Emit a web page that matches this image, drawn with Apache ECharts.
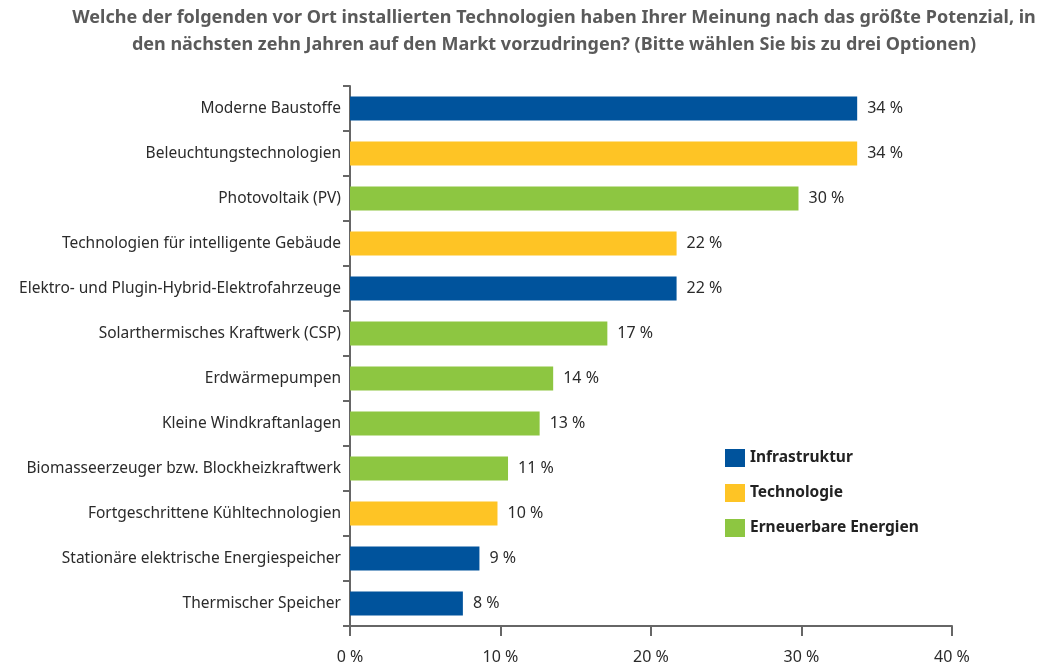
<!DOCTYPE html>
<html>
<head>
<meta charset="utf-8">
<script src="https://cdn.jsdelivr.net/npm/echarts@6/dist/echarts.min.js"></script>
<style>
  html, body { margin: 0; padding: 0; background: #fff; }
  #chart { width: 1057px; height: 665px; }
</style>
</head>
<body>
<div id="chart"></div>
<script>
const categories = [
  'Moderne Baustoffe',
  'Beleuchtungstechnologien',
  'Photovoltaik (PV)',
  'Technologien für intelligente Gebäude',
  'Elektro- und Plugin-Hybrid-Elektrofahrzeuge',
  'Solarthermisches Kraftwerk (CSP)',
  'Erdwärmepumpen',
  'Kleine Windkraftanlagen',
  'Biomasseerzeuger bzw. Blockheizkraftwerk',
  'Fortgeschrittene Kühltechnologien',
  'Stationäre elektrische Energiespeicher',
  'Thermischer Speicher'
];
const values = [33.7, 33.7, 29.8, 21.7, 21.7, 17.1, 13.5, 12.6, 10.5, 9.8, 8.6, 7.5];
const valueLabels = ['34 %', '34 %', '30 %', '22 %', '22 %', '17 %', '14 %', '13 %', '11 %', '10 %', '9 %', '8 %'];
const groups = ['Infrastruktur', 'Technologie', 'Erneuerbare Energien', 'Technologie', 'Infrastruktur',
  'Erneuerbare Energien', 'Erneuerbare Energien', 'Erneuerbare Energien', 'Erneuerbare Energien',
  'Technologie', 'Infrastruktur', 'Infrastruktur'];
const groupNames = ['Infrastruktur', 'Technologie', 'Erneuerbare Energien'];
const groupColors = ['#00539c', '#fec425', '#8dc641'];
const xTicks = [0, 10, 20, 30, 40];

const FONT = '"Noto Sans", sans-serif';

const chart = echarts.init(document.getElementById('chart'));

const series = groupNames.map((g, gi) => ({
  name: g,
  type: 'bar',
  stack: 'all',
  barWidth: 24,
  itemStyle: { color: groupColors[gi] },
  data: values.map((v, i) => groups[i] === g ? v : '-'),
  label: {
    show: true,
    position: 'right',
    distance: 10,
    color: '#2b2b2b',
    fontSize: 16,
    fontFamily: FONT,
    formatter: p => valueLabels[p.dataIndex]
  }
}));

const option = {
  backgroundColor: '#fff',
  animation: false,
  title: {
    text: 'Welche der folgenden vor Ort installierten Technologien haben Ihrer Meinung nach das größte Potenzial, in\nden nächsten zehn Jahren auf den Markt vorzudringen? (Bitte wählen Sie bis zu drei Optionen)',
    left: 554,
    top: 0,
    padding: [4, 0],
    textAlign: 'center',
    textStyle: {
      fontFamily: FONT,
      fontSize: 18,
      fontWeight: 'bold',
      color: '#5a5a5a',
      lineHeight: 27
    }
  },
  legend: {
    orient: 'vertical',
    left: 725,
    top: 449,
    padding: 0,
    itemWidth: 20,
    itemHeight: 18,
    itemGap: 17,
    icon: 'rect',
    data: groupNames,
    textStyle: { fontFamily: FONT, fontSize: 15.5, fontWeight: 'bold', color: '#222' }
  },
  grid: { left: 350, top: 86, width: 602, height: 540, containLabel: false },
  xAxis: {
    type: 'value',
    min: xTicks[0],
    max: xTicks[xTicks.length - 1],
    interval: 10,
    splitLine: { show: false },
    axisLine: { show: true, lineStyle: { color: '#666', width: 2 } },
    axisTick: { show: true, length: 10, lineStyle: { color: '#666', width: 2 } },
    axisLabel: {
      margin: 23,
      color: '#2b2b2b',
      fontSize: 16,
      fontFamily: FONT,
      formatter: v => v + ' %'
    }
  },
  yAxis: {
    type: 'category',
    inverse: true,
    data: categories,
    axisLine: { show: true, lineStyle: { color: '#666', width: 2 } },
    axisTick: { show: true, length: 7, lineStyle: { color: '#666', width: 2 } },
    axisLabel: { margin: 9, color: '#2b2b2b', fontSize: 15.5, fontFamily: FONT }
  },
  series: series
};

chart.setOption(option);
</script>
</body>
</html>
